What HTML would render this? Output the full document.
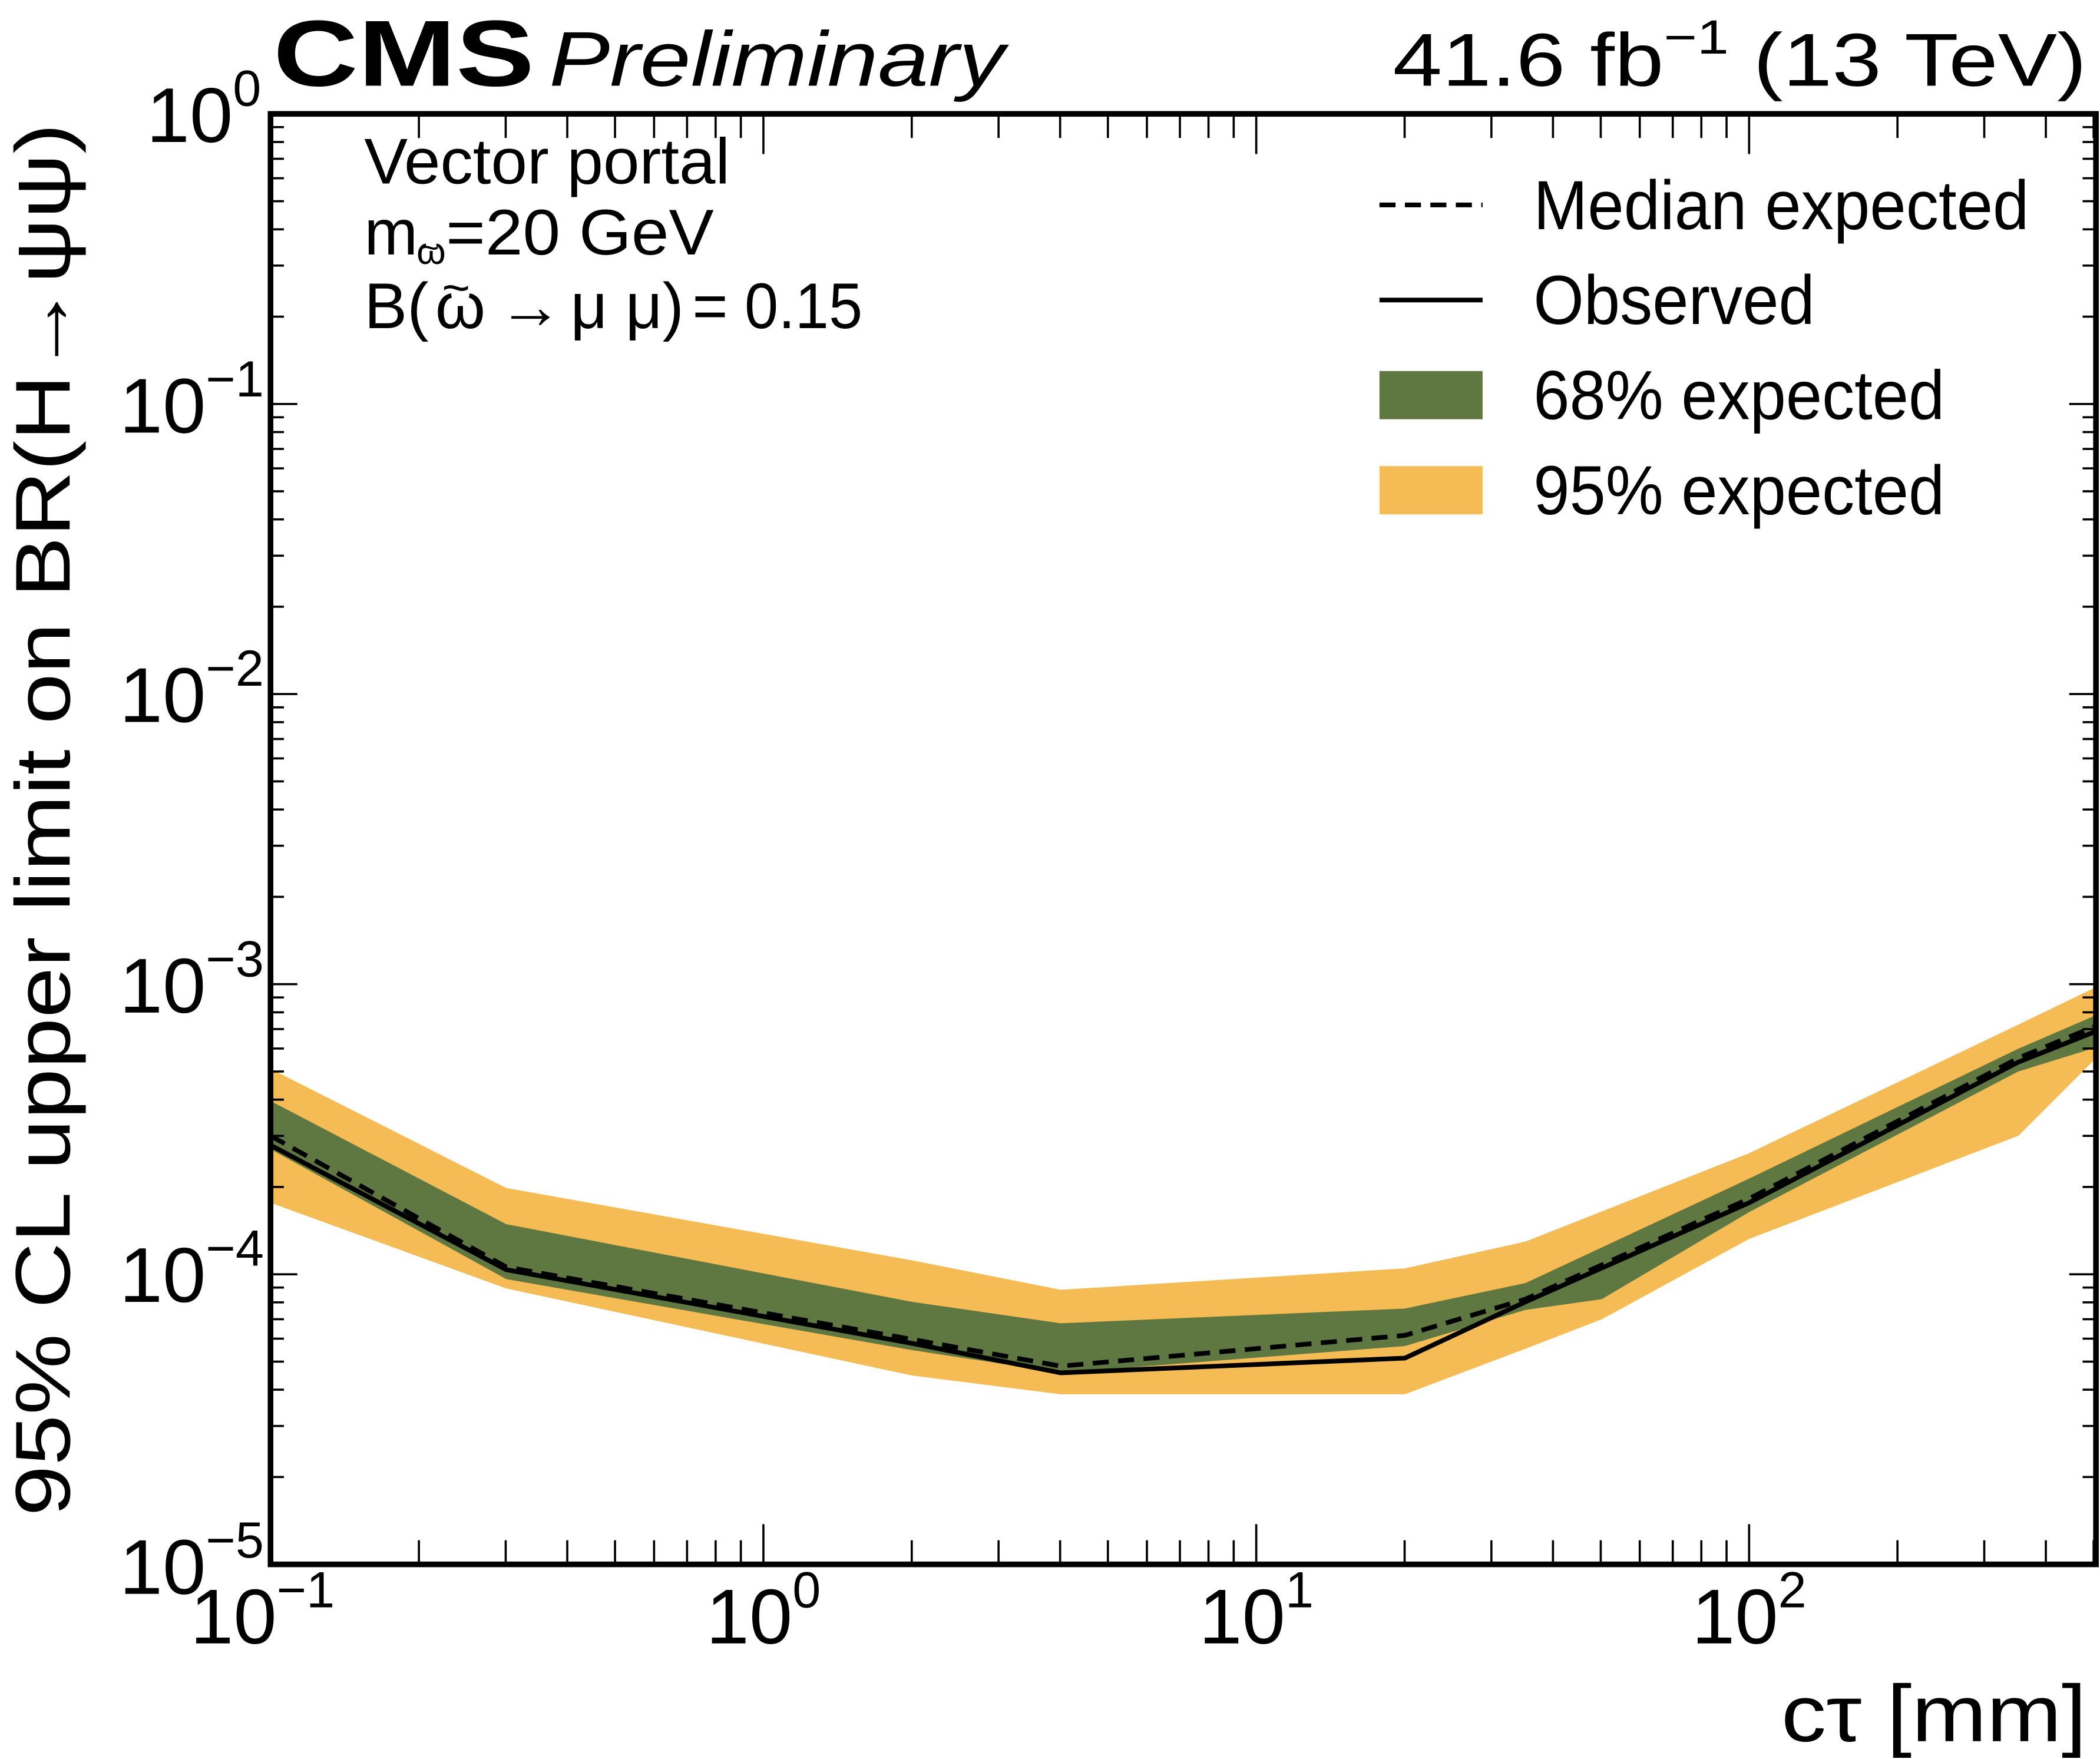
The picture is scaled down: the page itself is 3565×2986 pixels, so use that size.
<!DOCTYPE html>
<html><head><meta charset="utf-8">
<style>
html,body{margin:0;padding:0;background:#fff;}
svg{display:block;}
text{font-family:"Liberation Sans",Arial,sans-serif;fill:#000;}
</style></head>
<body>
<svg xmlns="http://www.w3.org/2000/svg" width="3565" height="2986" viewBox="0 0 1568 1313.3">
<rect width="1568" height="1313.3" fill="#fff"/>
<polygon fill="#F5BB54" points="202,798 378,887 681,941 792,963 1049,947 1139,927 1306,861 1507,765 1565,737 1565,790 1507,848 1306,925 1196,985 1139,1007 1049,1041 792,1041 681,1027 378,962 202,898"/>
<polygon fill="#5F7741" points="202,822 378,914 681,972 792,988 1049,977 1139,958 1306,880 1507,783 1565,758 1565,782 1507,800 1306,905 1196,970 1139,978 1049,1005 792,1025 681,1008 378,955 202,858"/>
<polyline fill="none" stroke="#000" stroke-width="3.5" stroke-dasharray="12,7" points="202,848 378,946 681,1000 792,1020 1049,997 1139,970 1306,895 1507,790 1565,766"/>
<polyline fill="none" stroke="#000" stroke-width="3.5" points="202,855 378,948 681,1003 792,1025 1049,1014 1139,972 1306,898 1507,793 1565,770"/>
<g id="ticks" stroke="#000" stroke-width="1.6"></g>
<rect x="202" y="85" width="1363" height="1083" fill="none" stroke="#000" stroke-width="4.2"/>
<text x="204" y="64" font-size="70" font-weight="bold" textLength="195" lengthAdjust="spacingAndGlyphs">CMS</text>
<text x="410" y="64" font-size="58" font-style="italic" textLength="340" lengthAdjust="spacingAndGlyphs">Preliminary</text>
<text x="1040" y="64" font-size="56" textLength="518" lengthAdjust="spacingAndGlyphs">41.6 fb<tspan dy="-24" font-size="36">−1</tspan><tspan dy="24"> (13 TeV)</tspan></text>
<text x="272" y="137" font-size="48" textLength="273" lengthAdjust="spacingAndGlyphs">Vector portal</text>
<text x="272" y="190" font-size="48">m</text>
<text x="311" y="197" font-size="28">ω</text>
<text x="314" y="193" font-size="24">~</text>
<text x="333" y="190" font-size="48" textLength="200" lengthAdjust="spacingAndGlyphs">=20 GeV</text>
<text x="272" y="245" font-size="48">B(</text>
<text x="325" y="245" font-size="48">ω</text>
<text x="330" y="227" font-size="36">~</text>
<text x="372" y="245" font-size="48">→</text>
<text x="426" y="245" font-size="48">μ μ)</text>
<text x="517" y="245" font-size="48" textLength="127" lengthAdjust="spacingAndGlyphs">= 0.15</text>
<line x1="1030" y1="153" x2="1107" y2="153" stroke="#000" stroke-width="3.5" stroke-dasharray="12,7"/>
<line x1="1030" y1="224" x2="1107" y2="224" stroke="#000" stroke-width="3.5"/>
<rect x="1030" y="277" width="77" height="36" fill="#5F7741"/>
<rect x="1030" y="348" width="77" height="36" fill="#F5BB54"/>
<text x="1145" y="171" font-size="52" textLength="370" lengthAdjust="spacingAndGlyphs">Median expected</text>
<text x="1145" y="242" font-size="52" textLength="210" lengthAdjust="spacingAndGlyphs">Observed</text>
<text x="1145" y="313" font-size="52" textLength="307" lengthAdjust="spacingAndGlyphs">68% expected</text>
<text x="1145" y="384" font-size="52" textLength="307" lengthAdjust="spacingAndGlyphs">95% expected</text>
<g font-size="58" text-anchor="end">
<text x="195" y="106">10<tspan dy="-27" font-size="38">0</tspan></text>
<text x="197" y="323">10<tspan dy="-27" font-size="38">−1</tspan></text>
<text x="197" y="539">10<tspan dy="-27" font-size="38">−2</tspan></text>
<text x="197" y="756">10<tspan dy="-27" font-size="38">−3</tspan></text>
<text x="197" y="972">10<tspan dy="-27" font-size="38">−4</tspan></text>
<text x="197" y="1190">10<tspan dy="-27" font-size="38">−5</tspan></text>
</g>
<g font-size="58" text-anchor="middle">
<text x="196" y="1227">10<tspan dy="-27" font-size="38">−1</tspan></text>
<text x="570" y="1227">10<tspan dy="-27" font-size="38">0</tspan></text>
<text x="938" y="1227">10<tspan dy="-27" font-size="38">1</tspan></text>
<text x="1306" y="1227">10<tspan dy="-27" font-size="38">2</tspan></text>
</g>
<text x="1558" y="1300" font-size="60" text-anchor="end" textLength="228" lengthAdjust="spacingAndGlyphs">cτ [mm]</text>
<text transform="translate(52,1132) rotate(-90)" font-size="58" textLength="1040" lengthAdjust="spacingAndGlyphs">95% CL upper limit on BR(H→ψψ)</text>
<script>
(function(){
var g=document.getElementById('ticks'),ns='http://www.w3.org/2000/svg';
function L(a,b,c,d){var l=document.createElementNS(ns,'line');l.setAttribute('x1',a);l.setAttribute('y1',b);l.setAttribute('x2',c);l.setAttribute('y2',d);g.appendChild(l);}
var x0=202,dx=368,y0=1168,dy=216.6;
for(var e=-1;e<=2;e++){for(var m=1;m<=9;m++){var x=x0+(e+1+Math.log10(m))*dx;if(x>1565)continue;var len=m==1?30:18;L(x,1168,x,1168-len);L(x,85,x,85+len);}}
for(var e=-5;e<0;e++){for(var m=1;m<=9;m++){var y=y0-(e+5+Math.log10(m))*dy;if(y<85)continue;var len=m==1?20:10;L(202,y,202+len,y);L(1565,y,1565-len,y);}}
})();
</script>
</svg>
</body></html>
